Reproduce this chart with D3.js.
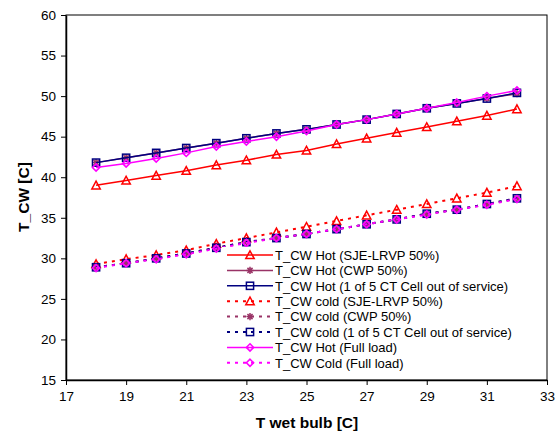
<!DOCTYPE html>
<html>
<head>
<meta charset="utf-8">
<script src="https://cdn.jsdelivr.net/npm/d3@7"></script>
<style>
  html, body { margin: 0; padding: 0; background: #fff; }
  svg { display: block; font-family: Arial, "Liberation Sans", sans-serif; }
</style>
</head>
<body>
<svg id="chart" width="556" height="437"></svg>
<script>
// Wet-bulb temperature (x axis)
const tWetBulb = [18, 19, 20, 21, 22, 23, 24, 25, 26, 27, 28, 29, 30, 31, 32];

// Cooling-water temperatures per operating case
const hotSJE   = [39.0, 39.6, 40.2, 40.8, 41.5, 42.1, 42.8, 43.3, 44.1, 44.8, 45.5, 46.2, 46.9, 47.6, 48.4];
const hotCWP   = [41.8, 42.4, 43.0, 43.6, 44.2, 44.8, 45.4, 45.9, 46.5, 47.1, 47.8, 48.5, 49.1, 49.7, 50.3];
const hotCT    = [41.8, 42.4, 43.0, 43.6, 44.2, 44.8, 45.4, 45.9, 46.5, 47.1, 47.8, 48.5, 49.1, 49.7, 50.4];
const coldSJE  = [29.3, 29.9, 30.4, 31.0, 31.8, 32.5, 33.2, 33.9, 34.6, 35.3, 36.0, 36.7, 37.4, 38.1, 38.9];
const coldCWP  = [28.9, 29.4, 30.0, 30.6, 31.3, 32.0, 32.5, 33.0, 33.6, 34.2, 34.8, 35.5, 36.0, 36.7, 37.4];
const coldCT   = [28.9, 29.4, 30.0, 30.6, 31.3, 32.0, 32.5, 33.0, 33.6, 34.2, 34.8, 35.5, 36.0, 36.7, 37.4];
const hotFull  = [41.2, 41.7, 42.3, 43.0, 43.8, 44.4, 45.0, 45.7, 46.5, 47.1, 47.8, 48.5, 49.2, 50.0, 50.7];
const coldFull = [28.8, 29.4, 29.9, 30.5, 31.2, 31.9, 32.5, 33.0, 33.6, 34.2, 34.8, 35.4, 36.0, 36.6, 37.3];

// Series names (legend order = drawing order)
const seriesNames = [
  "T_CW Hot (SJE-LRVP 50%)",
  "T_CW Hot (CWP 50%)",
  "T_CW Hot (1 of 5 CT Cell out of service)",
  "T_CW cold (SJE-LRVP 50%)",
  "T_CW cold (CWP 50%)",
  "T_CW cold (1 of 5 CT Cell out of service)",
  "T_CW Hot (Full load)",
  "T_CW Cold (Full load)"
];
const seriesValues = [hotSJE, hotCWP, hotCT, coldSJE, coldCWP, coldCT, hotFull, coldFull];

// Axis ticks
const xTicks = [17, 19, 21, 23, 25, 27, 29, 31, 33];
const yTicks = [15, 20, 25, 30, 35, 40, 45, 50, 55, 60];

// Styling for each series
const styles = [
  { color: "#FF0000", dashed: false, marker: "triangle" },
  { color: "#993366", dashed: false, marker: "star" },
  { color: "#000080", dashed: false, marker: "square" },
  { color: "#FF0000", dashed: true,  marker: "triangle" },
  { color: "#993366", dashed: true,  marker: "star" },
  { color: "#000080", dashed: true,  marker: "square" },
  { color: "#FF00FF", dashed: false, marker: "diamond" },
  { color: "#FF00FF", dashed: true,  marker: "diamond" }
];

const svg = d3.select("#chart");
const plot = { left: 66, top: 15, right: 547, bottom: 380 };

const x = d3.scaleLinear().domain([17, 33]).range([plot.left, plot.right]);
const y = d3.scaleLinear().domain([15, 60]).range([plot.bottom, plot.top]);

// Plot-area frame
svg.append("rect")
  .attr("x", plot.left).attr("y", plot.top)
  .attr("width", plot.right - plot.left).attr("height", plot.bottom - plot.top)
  .attr("fill", "#fff").attr("stroke", "#000").attr("stroke-width", 1);

// Axes
const xAxis = svg.append("g")
  .attr("transform", `translate(0,${plot.bottom})`)
  .call(d3.axisBottom(x).tickValues(xTicks).tickSize(5).tickSizeOuter(0).tickPadding(6));
const yAxis = svg.append("g")
  .attr("transform", `translate(${plot.left},0)`)
  .call(d3.axisLeft(y).tickValues(yTicks).tickSize(5).tickSizeOuter(0).tickPadding(5));

[xAxis, yAxis].forEach(g => {
  g.select(".domain").attr("stroke", "#000").attr("stroke-width", 1.5);
  g.selectAll(".tick line").attr("stroke", "#000");
  g.selectAll(".tick text")
    .attr("font-family", "Arial, 'Liberation Sans', sans-serif")
    .attr("font-size", 13.5).attr("fill", "#000");
});

// Axis titles
svg.append("text")
  .attr("x", 307).attr("y", 428)
  .attr("text-anchor", "middle")
  .attr("font-size", 15.5).attr("font-weight", "bold")
  .text("T wet bulb [C]");
svg.append("text")
  .attr("transform", "translate(29,197) rotate(-90)")
  .attr("text-anchor", "middle")
  .attr("font-size", 15.5).attr("font-weight", "bold")
  .text("T_CW [C]");

// Marker drawing
function drawMarker(g, type, color) {
  const s = 3.6;
  if (type === "triangle") {
    g.append("path").attr("d", `M0,${-s - 0.6}L${s + 0.6},${s}L${-s - 0.6},${s}Z`)
      .attr("fill", "none").attr("stroke", color).attr("stroke-width", 1.5);
  } else if (type === "square") {
    g.append("rect").attr("x", -s).attr("y", -s).attr("width", 2 * s).attr("height", 2 * s)
      .attr("fill", "none").attr("stroke", color).attr("stroke-width", 1.5);
  } else if (type === "diamond") {
    g.append("path").attr("d", `M0,${-s}L${s},0L0,${s}L${-s},0Z`)
      .attr("fill", "none").attr("stroke", color).attr("stroke-width", 1.6);
  } else if (type === "star") {
    const r = 3.6;
    const p = [];
    for (let k = 0; k < 4; k++) {
      const a = k * Math.PI / 4;
      p.push(`M${-r * Math.cos(a)},${-r * Math.sin(a)}L${r * Math.cos(a)},${r * Math.sin(a)}`);
    }
    g.append("path").attr("d", p.join("")).attr("stroke", color).attr("stroke-width", 1.5);
  }
}

const line = d3.line().x(d => x(d[0])).y(d => y(d[1]));

seriesValues.forEach((vals, i) => {
  const st = styles[i];
  const pts = tWetBulb.map((t, j) => [t, vals[j]]);
  const g = svg.append("g");
  g.append("path")
    .datum(pts)
    .attr("d", line)
    .attr("fill", "none")
    .attr("stroke", st.color)
    .attr("stroke-width", st.dashed ? 2 : 1.5)
    .attr("stroke-dasharray", st.dashed ? "3,5" : null);
  pts.forEach(p => {
    const m = g.append("g").attr("transform", `translate(${x(p[0])},${y(p[1])})`);
    drawMarker(m, st.marker, st.color);
  });
});

// Legend
const legend = svg.append("g").attr("transform", "translate(222,247)");
legend.append("rect").attr("x", 0).attr("y", 0).attr("width", 322).attr("height", 125)
  .attr("fill", "#fff");
seriesNames.forEach((name, i) => {
  const st = styles[i];
  const ry = 8 + i * 15.4;
  const row = legend.append("g").attr("transform", `translate(0,${ry})`);
  row.append("line").attr("x1", 5).attr("x2", 51).attr("y1", 0).attr("y2", 0)
    .attr("stroke", st.color)
    .attr("stroke-width", st.dashed ? 2 : 1.5)
    .attr("stroke-dasharray", st.dashed ? "3,5" : null);
  const m = row.append("g").attr("transform", "translate(28,0)");
  drawMarker(m, st.marker, st.color);
  row.append("text").attr("x", 53).attr("y", 4.8)
    .attr("font-size", 13).attr("fill", "#000")
    .text(name);
});
</script>
</body>
</html>
